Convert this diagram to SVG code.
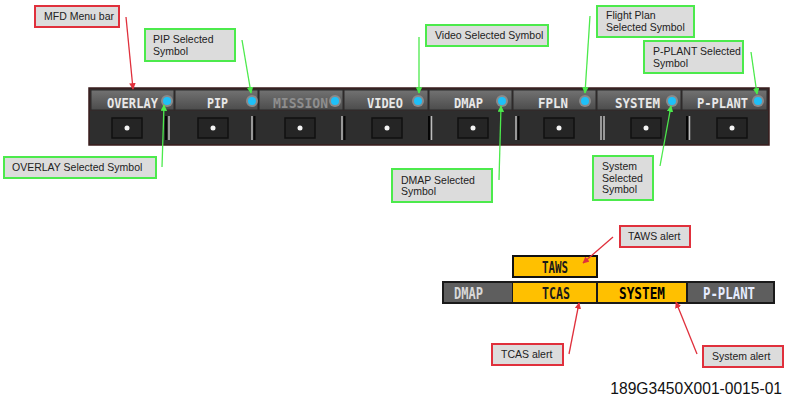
<svg xmlns="http://www.w3.org/2000/svg" width="786" height="398" viewBox="0 0 786 398">
<style>
.call{fill:#dcdcdc;stroke-width:2}
.g{stroke:#4cea4c}
.r{stroke:#e0303c}
.ct{font-family:"Liberation Sans",Arial,sans-serif;font-size:10.5px;fill:#222}
.lbl{font-family:"DejaVu Sans Mono",monospace;font-weight:bold;font-size:14.5px;fill:#e8e8e8}
.cell{fill:url(#cellg);stroke:#2a2a2a;stroke-width:1}
.btn{fill:#252525;stroke:#111;stroke-width:1.5}
.bdot{fill:#f4f4f4}
.halo{fill:#8a8a8a}
.dot{fill:#1ec0f8}
.sepL{stroke:#bdbdbd;stroke-width:1.5}
.sepD{stroke:#050505;stroke-width:2}
.gl{stroke:#4cea4c;stroke-width:1.3;fill:none}
.rl{stroke:#e0303c;stroke-width:1.3;fill:none}
.big{font-family:"DejaVu Sans Mono",monospace;font-weight:bold;font-size:16.5px}
</style>
<defs>
<linearGradient id="cellg" x1="0" y1="0" x2="0" y2="1">
<stop offset="0" stop-color="#727272"/><stop offset="1" stop-color="#4c4c4c"/>
</linearGradient>
<marker id="ag" viewBox="0 0 10 10" refX="9" refY="5" markerWidth="5" markerHeight="5" orient="auto"><path d="M0,0L10,5L0,10z" fill="#4cea4c"/></marker>
<marker id="ar" viewBox="0 0 10 10" refX="9" refY="5" markerWidth="5" markerHeight="5" orient="auto"><path d="M0,0L10,5L0,10z" fill="#e0303c"/></marker>
</defs>
<rect width="786" height="398" fill="#fff"/>

<g id="menubar">
<rect x="89" y="88" width="680" height="57" fill="#2e2e2e" stroke="#3a1c1c" stroke-width="1.5"/>
<rect x="90" y="89" width="678" height="22" fill="#3a2a2a"/>
<g id="overlay"><rect class="cell" x="91" y="90" width="83" height="20"/><text class="lbl" x="107" y="107.5" textLength="51" lengthAdjust="spacingAndGlyphs">OVERLAY</text><circle class="halo" cx="167" cy="101" r="6"/><circle class="dot" cx="167" cy="101" r="4"/><rect class="btn" x="112" y="118" width="30" height="20"/><circle class="bdot" cx="127" cy="128" r="2.5"/></g>
<g id="pip"><rect class="cell" x="175" y="90" width="83" height="20"/><text class="lbl" x="207" y="107.5" textLength="21" lengthAdjust="spacingAndGlyphs">PIP</text><circle class="halo" cx="252" cy="101" r="6"/><circle class="dot" cx="252" cy="101" r="4"/><rect class="btn" x="198" y="118" width="30" height="20"/><circle class="bdot" cx="213" cy="128" r="2.5"/></g>
<g id="mission"><rect class="cell" x="259" y="90" width="84" height="20"/><text class="lbl" x="273" y="107.5" textLength="55" lengthAdjust="spacingAndGlyphs" style="fill:#8e8e8e">MISSION</text><circle class="halo" cx="335" cy="101" r="6"/><circle class="dot" cx="335" cy="101" r="4"/><rect class="btn" x="285" y="118" width="30" height="20"/><circle class="bdot" cx="300" cy="128" r="2.5"/></g>
<g id="video"><rect class="cell" x="344" y="90" width="84" height="20"/><text class="lbl" x="367" y="107.5" textLength="36" lengthAdjust="spacingAndGlyphs">VIDEO</text><circle class="halo" cx="418" cy="101" r="6"/><circle class="dot" cx="418" cy="101" r="4"/><rect class="btn" x="372" y="118" width="30" height="20"/><circle class="bdot" cx="387" cy="128" r="2.5"/></g>
<g id="dmap"><rect class="cell" x="429" y="90" width="83" height="20"/><text class="lbl" x="454" y="107.5" textLength="29" lengthAdjust="spacingAndGlyphs">DMAP</text><circle class="halo" cx="502" cy="101" r="6"/><circle class="dot" cx="502" cy="101" r="4"/><rect class="btn" x="458" y="118" width="30" height="20"/><circle class="bdot" cx="473" cy="128" r="2.5"/></g>
<g id="fpln"><rect class="cell" x="513" y="90" width="83" height="20"/><text class="lbl" x="538" y="107.5" textLength="30" lengthAdjust="spacingAndGlyphs">FPLN</text><circle class="halo" cx="585" cy="101" r="6"/><circle class="dot" cx="585" cy="101" r="4"/><rect class="btn" x="544" y="118" width="30" height="20"/><circle class="bdot" cx="559" cy="128" r="2.5"/></g>
<g id="system"><rect class="cell" x="597" y="90" width="84" height="20"/><text class="lbl" x="615" y="107.5" textLength="45" lengthAdjust="spacingAndGlyphs">SYSTEM</text><circle class="halo" cx="672" cy="101" r="6"/><circle class="dot" cx="672" cy="101" r="4"/><rect class="btn" x="631" y="118" width="30" height="20"/><circle class="bdot" cx="646" cy="128" r="2.5"/></g>
<g id="pplant"><rect class="cell" x="682" y="90" width="85" height="20"/><text class="lbl" x="697" y="107.5" textLength="51" lengthAdjust="spacingAndGlyphs">P-PLANT</text><circle class="halo" cx="758" cy="101" r="6"/><circle class="dot" cx="758" cy="101" r="4"/><rect class="btn" x="717" y="118" width="30" height="20"/><circle class="bdot" cx="732" cy="128" r="2.5"/></g>
<g id="separators">
<line class="sepD" x1="166" y1="116" x2="166" y2="140"/><line class="sepL" x1="169" y1="116" x2="169" y2="140"/>
<line class="sepL" x1="252" y1="116" x2="252" y2="140"/><line class="sepD" x1="254.5" y1="116" x2="254.5" y2="140"/>
<line class="sepL" x1="342" y1="116" x2="342" y2="140"/><line class="sepD" x1="344.5" y1="116" x2="344.5" y2="140"/>
<line class="sepD" x1="429" y1="116" x2="429" y2="140"/><line class="sepL" x1="431.5" y1="116" x2="431.5" y2="140"/>
<line class="sepL" x1="516" y1="116" x2="516" y2="140"/><line class="sepD" x1="518.5" y1="116" x2="518.5" y2="140"/>
<line class="sepL" x1="601" y1="116" x2="601" y2="140"/><line class="sepL" x1="604" y1="116" x2="604" y2="140"/>
<line class="sepD" x1="687" y1="116" x2="687" y2="140"/><line class="sepL" x1="689.5" y1="116" x2="689.5" y2="140"/>
</g>
</g>

<g id="alertbar">
<g id="taws"><rect x="513" y="256" width="84" height="21" fill="#ffc000" stroke="#111" stroke-width="2"/><text class="big" x="542" y="273" textLength="26" lengthAdjust="spacingAndGlyphs" fill="#1a1a1a">TAWS</text></g>
<rect x="442" y="281" width="333" height="23" fill="#1a1a1a"/>
<g id="a-dmap"><rect x="444" y="283" width="68" height="19" fill="#5e5e5e"/><text class="big" x="454" y="299" textLength="29" lengthAdjust="spacingAndGlyphs" fill="#d8d8d8">DMAP</text></g>
<g id="a-tcas"><rect x="513" y="283" width="83" height="19" fill="#ffc000"/><text class="big" x="542" y="299" textLength="28" lengthAdjust="spacingAndGlyphs" fill="#1a1a1a">TCAS</text></g>
<g id="a-system"><rect x="598" y="283" width="88" height="19" fill="#ffc000"/><text class="big" x="619" y="299" textLength="46" lengthAdjust="spacingAndGlyphs" fill="#000">SYSTEM</text></g>
<g id="a-pplant"><rect x="688" y="283" width="85" height="19" fill="#5e5e5e"/><text class="big" x="703" y="299" textLength="52" lengthAdjust="spacingAndGlyphs" fill="#e6ecff">P-PLANT</text></g>
</g>

<g id="callouts">
<g id="c-mfd"><rect class="call r" x="35" y="6" width="84" height="21"/><text class="ct" x="44" y="20">MFD Menu bar</text></g>
<g id="c-pip"><rect class="call g" x="145" y="29" width="90" height="32"/><text class="ct" x="153" y="43">PIP Selected</text><text class="ct" x="153" y="55">Symbol</text></g>
<g id="c-video"><rect class="call g" x="426" y="25" width="122" height="21"/><text class="ct" x="435" y="39">Video Selected Symbol</text></g>
<g id="c-fpln"><rect class="call g" x="597" y="6" width="97" height="31"/><text class="ct" x="606" y="19">Flight Plan</text><text class="ct" x="606" y="31">Selected Symbol</text></g>
<g id="c-pplant"><rect class="call g" x="644" y="41" width="99" height="32"/><text class="ct" x="653" y="55">P-PLANT Selected</text><text class="ct" x="653" y="67">Symbol</text></g>
<g id="c-overlay"><rect class="call g" x="4" y="157" width="152" height="21"/><text class="ct" x="12" y="171">OVERLAY Selected Symbol</text></g>
<g id="c-dmap"><rect class="call g" x="392" y="169" width="100" height="33"/><text class="ct" x="401" y="184">DMAP Selected</text><text class="ct" x="401" y="195">Symbol</text></g>
<g id="c-system"><rect class="call g" x="593" y="156" width="60" height="44"/><text class="ct" x="602" y="170">System</text><text class="ct" x="602" y="182">Selected</text><text class="ct" x="602" y="193">Symbol</text></g>
<g id="c-taws"><rect class="call r" x="620" y="226" width="70" height="21"/><text class="ct" x="628" y="240">TAWS alert</text></g>
<g id="c-tcas"><rect class="call r" x="492" y="344" width="71" height="21"/><text class="ct" x="501" y="358">TCAS alert</text></g>
<g id="c-sysalert"><rect class="call r" x="703" y="346" width="80" height="21"/><text class="ct" x="712" y="360">System alert</text></g>
</g>

<g id="connectors">
<line class="rl" x1="126" y1="17" x2="133" y2="89" marker-end="url(#ar)"/>
<line class="gl" x1="242" y1="40" x2="251" y2="93" marker-end="url(#ag)"/>
<line class="gl" x1="419" y1="37" x2="419" y2="93" marker-end="url(#ag)"/>
<line class="gl" x1="590" y1="16" x2="585" y2="93" marker-end="url(#ag)"/>
<line class="gl" x1="751" y1="52" x2="757" y2="94" marker-end="url(#ag)"/>
<line class="gl" x1="162" y1="167" x2="164" y2="105" marker-end="url(#ag)"/>
<line class="gl" x1="499" y1="180" x2="501" y2="106" marker-end="url(#ag)"/>
<line class="gl" x1="660" y1="166" x2="671" y2="106" marker-end="url(#ag)"/>
<line class="rl" x1="613" y1="237" x2="583" y2="263" marker-end="url(#ar)"/>
<line class="rl" x1="569" y1="354" x2="579" y2="303" marker-end="url(#ar)"/>
<line class="rl" x1="697" y1="354" x2="676" y2="302" marker-end="url(#ar)"/>
</g>

<text x="782" y="394" text-anchor="end" font-family="Liberation Sans,Arial,sans-serif" font-size="15.6" fill="#111">189G3450X001-0015-01</text>
</svg>
